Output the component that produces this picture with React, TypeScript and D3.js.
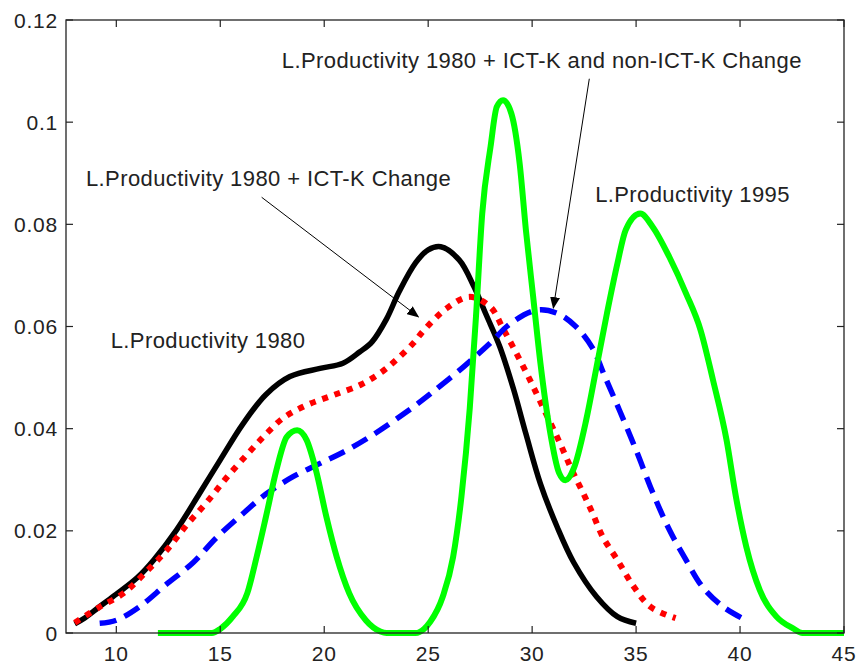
import * as d3 from 'd3'

// tick values
const xTicks = [10, 15, 20, 25, 30, 35, 40, 45]
const yTicks = [0, 0.02, 0.04, 0.06, 0.08, 0.1, 0.12]
const yTickLabels = ['0', '0.02', '0.04', '0.06', '0.08', '0.1', '0.12']

// L.Productivity 1980 (black solid)
const lp1980X = [8.0, 8.5, 9.2, 10, 11, 11.8, 12.9, 14, 15, 16.1, 17.2, 18.35, 19.8, 20.9, 21.7, 22.3, 23.0, 23.6, 24.4, 25.0, 25.6, 26.5, 27.2, 27.8, 28.45, 29.1, 29.7, 30.4, 31.2, 32, 33.1, 34.1, 35.0]
const lp1980Y = [0.0018, 0.003, 0.0052, 0.0076, 0.0108, 0.0143, 0.0202, 0.0273, 0.0339, 0.041, 0.0467, 0.0502, 0.0518, 0.0528, 0.055, 0.057, 0.0615, 0.0668, 0.0725, 0.075, 0.0756, 0.073, 0.0678, 0.0622, 0.056, 0.0478, 0.039, 0.0292, 0.0208, 0.0138, 0.0071, 0.0032, 0.0019]

// L.Productivity 1980 + ICT-K Change (red dotted)
const ictX = [8.0, 9.2, 10.35, 11.46, 12.42, 13.4, 14.35, 15.3, 16.3, 17.1, 18.0, 19.15, 20.4, 21.8, 22.8, 23.5, 24.3, 24.8, 25.9, 27.0, 28.0, 28.6, 29.25, 29.9, 30.6, 31.3, 31.9, 32.5, 32.9, 33.4, 34.1, 34.9, 35.7, 36.9]
const ictY = [0.002, 0.0051, 0.0078, 0.0121, 0.0162, 0.0212, 0.0256, 0.0304, 0.035, 0.0385, 0.042, 0.0446, 0.0465, 0.0487, 0.0512, 0.0536, 0.0568, 0.0593, 0.0636, 0.0658, 0.0638, 0.0596, 0.0547, 0.0495, 0.0435, 0.0375, 0.032, 0.027, 0.0235, 0.0188, 0.0143, 0.009, 0.0051, 0.0029]

// L.Productivity 1980 + ICT-K and non-ICT-K Change (blue dashed)
const allKX = [9.2, 10, 11.1, 12.4, 13.7, 14.8, 16.1, 17.2, 18.5, 19.8, 21.1, 22.5, 24.0, 25.1, 26.7, 28.0, 28.9, 30.2, 31.2, 32.1, 32.9, 33.5, 34.2, 35.0, 35.8, 36.6, 37.4, 38.2, 39.2, 40.1]
const allKY = [0.0019, 0.0025, 0.0051, 0.0095, 0.0138, 0.0186, 0.0234, 0.0272, 0.0306, 0.0332, 0.0358, 0.0392, 0.0434, 0.0468, 0.0521, 0.0568, 0.0604, 0.0632, 0.0626, 0.06, 0.0558, 0.0502, 0.0436, 0.0358, 0.0275, 0.0202, 0.0143, 0.009, 0.0051, 0.0029]

// L.Productivity 1995 (green solid)
const lp1995X = [12, 14.6, 15.0, 15.6, 16.3, 16.75, 17.2, 17.7, 18.2, 18.7, 19.15, 19.6, 20.1, 20.6, 21.2, 22.0, 22.7, 23, 24.4, 24.8, 25.1, 25.7, 26.2, 26.6, 27.0, 27.3, 27.6, 28.0, 28.3, 28.6, 29.0, 29.4, 29.7, 30.05, 30.4, 30.85, 31.3, 31.6, 32.0, 32.6, 33.1, 33.6, 34.1, 34.5, 35.2, 35.8, 36.6, 37.4, 38.1, 38.7, 39.35, 39.8, 40.3, 40.95, 41.75, 42.55, 43, 45]
const lp1995Y = [0, 0, 0.0008, 0.0032, 0.0078, 0.0149, 0.0228, 0.0319, 0.0384, 0.0397, 0.0378, 0.0319, 0.0228, 0.0149, 0.0078, 0.0025, 0.0003, 0, 0, 0.0008, 0.0022, 0.0071, 0.0149, 0.0267, 0.044, 0.062, 0.0821, 0.0952, 0.103, 0.1043, 0.1017, 0.0919, 0.0789, 0.0658, 0.0528, 0.0397, 0.0313, 0.0299, 0.0322, 0.0417, 0.0521, 0.0626, 0.0723, 0.0789, 0.0821, 0.0795, 0.0736, 0.0665, 0.0593, 0.0495, 0.0378, 0.0267, 0.0169, 0.0084, 0.0032, 0.0009, 0, 0]

// annotations: text anchor and arrow (data coords)
const notes = [
  { text: 'L.Productivity 1980 + ICT-K and non-ICT-K Change', x: 17.96, y: 0.1106 },
  { text: 'L.Productivity 1980 + ICT-K Change', x: 8.54, y: 0.0875 },
  { text: 'L.Productivity 1980', x: 9.73, y: 0.0557 },
  { text: 'L.Productivity 1995', x: 33.03, y: 0.0844 },
]
const arrows = [
  { x1: 32.75, y1: 0.1085, x2: 31.02, y2: 0.0636 },
  { x1: 16.99, y1: 0.0853, x2: 24.53, y2: 0.0619 },
]

const W = 859, H = 667
const left = 66, right = 844, top = 20, bottom = 633
const font = '"Liberation Sans", Arial, sans-serif'
const ink = '#222'

const zip = (xs: number[], ys: number[]) => xs.map((x, i) => [x, ys[i]] as [number, number])

export default function App() {
  const x = d3.scaleLinear().domain([7.58, 45]).range([left, right])
  const y = d3.scaleLinear().domain([0, 0.12]).range([bottom, top])
  const smooth = d3.line<[number, number]>()
    .x(d => x(d[0]))
    .y(d => y(d[1]))
    .curve(d3.curveCatmullRom.alpha(0.5))
  const mono = d3.line<[number, number]>()
    .x(d => x(d[0]))
    .y(d => y(d[1]))
    .curve(d3.curveMonotoneX)

  const series = [
    { d: smooth(zip(lp1980X, lp1980Y)), color: '#000', width: 5.5, dash: undefined },
    { d: smooth(zip(ictX, ictY)), color: '#ff0000', width: 6, dash: '6 7' },
    { d: smooth(zip(allKX, allKY)), color: '#0000ff', width: 5.5, dash: '17 9' },
    { d: mono(zip(lp1995X, lp1995Y)), color: '#00ff00', width: 6, dash: undefined },
  ]

  const tl = 7

  return (
    <svg width={W} height={H} style={{ position: 'absolute', left: 0, top: 0, background: '#fff' }}>
      <defs>
        <marker id="arr" markerUnits="userSpaceOnUse" markerWidth={12} markerHeight={10}
          refX={11} refY={5} orient="auto" viewBox="0 0 12 10">
          <path d="M0,0 L12,5 L0,10 Z" fill="#000" />
        </marker>
      </defs>

      {series.map((s, i) => (
        <path key={i} d={s.d ?? ''} fill="none" stroke={s.color}
          strokeWidth={s.width} strokeDasharray={s.dash} strokeLinejoin="round" />
      ))}

      {/* axes box */}
      <rect x={left} y={top} width={right - left} height={bottom - top} fill="none" stroke={ink} strokeWidth={1.3} />

      {xTicks.map(t => (
        <g key={'x' + t}>
          <line x1={x(t)} x2={x(t)} y1={bottom} y2={bottom - tl} stroke={ink} strokeWidth={1.2} />
          <line x1={x(t)} x2={x(t)} y1={top} y2={top + tl} stroke={ink} strokeWidth={1.2} />
          <text x={x(t)} y={bottom + 28} textAnchor="middle" fontFamily={font} fontSize={21}
            letterSpacing={0.8} fill={ink}>{t}</text>
        </g>
      ))}
      {yTicks.map((t, i) => (
        <g key={'y' + t}>
          <line x1={left} x2={left + tl} y1={y(t)} y2={y(t)} stroke={ink} strokeWidth={1.2} />
          <line x1={right} x2={right - tl} y1={y(t)} y2={y(t)} stroke={ink} strokeWidth={1.2} />
          <text x={left - 8} y={y(t) + 7.5} textAnchor="end" fontFamily={font} fontSize={21}
            letterSpacing={0.8} fill={ink}>{yTickLabels[i]}</text>
        </g>
      ))}

      {arrows.map((a, i) => (
        <line key={'a' + i} x1={x(a.x1)} y1={y(a.y1)} x2={x(a.x2)} y2={y(a.y2)}
          stroke="#000" strokeWidth={1} markerEnd="url(#arr)" />
      ))}
      {notes.map((n, i) => (
        <text key={'n' + i} x={x(n.x)} y={y(n.y)} fontFamily={font} fontSize={22}
          letterSpacing={0.4} fill={ink}>{n.text}</text>
      ))}
    </svg>
  )
}
